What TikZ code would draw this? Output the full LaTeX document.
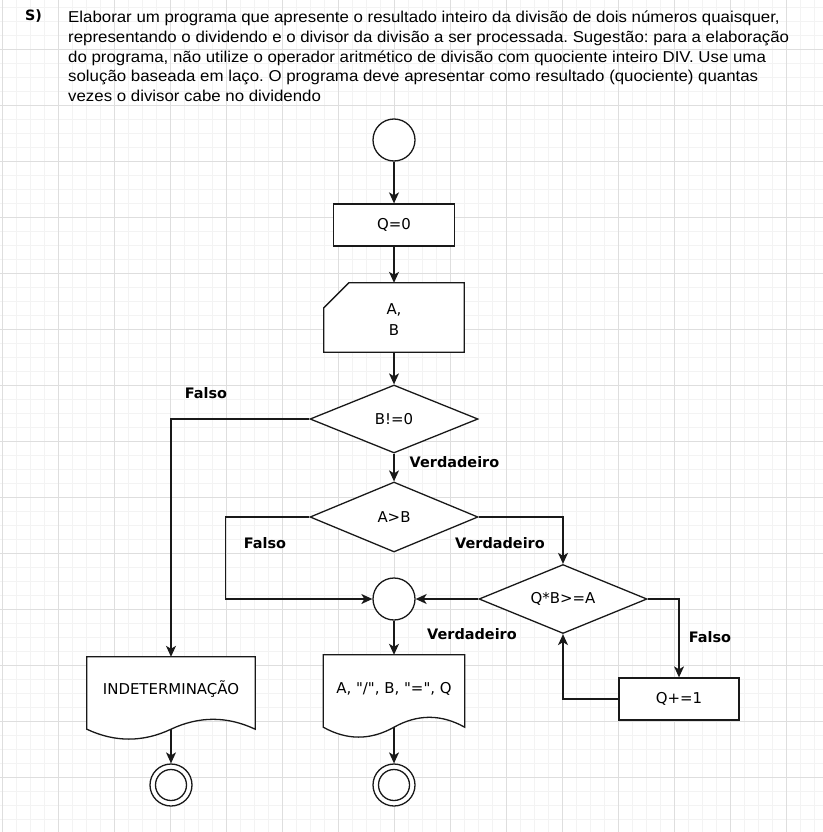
\documentclass[tikz,border=0pt]{standalone}
\usepackage{fontspec}
\setmainfont{Liberation Sans}
\newfontfamily\titlefont[FakeStretch=1.07]{Liberation Sans}
\newfontfamily\dvs{DejaVu Sans}
\usetikzlibrary{shapes.geometric,arrows.meta,calc}
\definecolor{gmaj}{RGB}{222,222,222}
\definecolor{gmin}{RGB}{243,243,243}
\definecolor{ink}{RGB}{25,25,25}
\pgfdeclarelayer{bg}
\pgfsetlayers{bg,main}
\frenchspacing
\newcommand\mydocwave[1]{%
  \draw[shapeline] (#1.north west) -- (#1.north east) -- (#1.south east)
    .. controls ($(#1.south east)!1/6!(#1.south west)+(0,-13.2)$) and ($(#1.south)!1/3!(#1.south east)+(0,-13.2)$) .. (#1.south)
    .. controls ($(#1.south)!1/3!(#1.south west)+(0,13.2)$) and ($(#1.south west)!1/6!(#1.south east)+(0,13.2)$) .. (#1.south west) -- cycle;}
\begin{document}
\begin{tikzpicture}[x=1bp,y=-1bp,
  nodefont/.style={font=\dvs\fontsize{15}{18}\selectfont},
  shapeline/.style={draw=ink, fill=white, line width=1.3bp},
  box/.style={rectangle, draw=ink, fill=white, line width=1.3bp, inner sep=0, nodefont},
  term/.style={circle, draw=ink, fill=white, line width=1.3bp, minimum size=42bp, inner sep=0},
  decision/.style={diamond, aspect=2.5, draw=ink, fill=white, line width=1.3bp, minimum width=168bp, minimum height=68bp, inner sep=0, nodefont},
  docbody/.style={rectangle, inner sep=0, minimum height=72bp},
  txt/.style={inner sep=0, nodefont},
  lbl/.style={inner sep=0, font=\dvs\bfseries\fontsize{14.5}{18}\selectfont},
  titletext/.style={inner sep=0, anchor=base west, font=\titlefont\fontsize{15.8}{19.7}\selectfont},
  arr/.style={draw=ink, line width=1.3bp, -{Stealth[length=11bp,width=10bp,inset=3bp]}}
]
\useasboundingbox (0,0) rectangle (823,832);
\begin{pgfonlayer}{bg}
  \fill[white] (0,0) rectangle (823,832);
  \foreach \i in {0,...,58} {
    \draw[gmin, line width=0.9bp] ({2.5+14*\i},0) -- ({2.5+14*\i},832);
    \draw[gmin, line width=0.9bp] (0,{7.5+14*\i}) -- (823,{7.5+14*\i});
  }
  \foreach \i in {0,...,14} {
    \draw[gmaj, line width=1bp] ({2.5+56*\i},0) -- ({2.5+56*\i},832);
  }
  \foreach \i in {0,...,13} {
    \draw[gmaj, line width=1bp] (0,{49.5+56*\i}) -- (823,{49.5+56*\i});
  }
\end{pgfonlayer}

% title
\node[inner sep=0, anchor=base west, font=\dvs\bfseries\fontsize{14.3}{18}\selectfont] (s) at (25,20.7) {S)};
\node[titletext] (t1) at (68,22.7) {Elaborar um programa que apresente o resultado inteiro da divisão de dois números quaisquer,};
\node[titletext] (t2) at (68,42.4) {representando o dividendo e o divisor da divisão a ser processada. Sugestão: para a elaboração};
\node[titletext] (t3) at (68,62.1) {do programa, não utilize o operador aritmético de divisão com quociente inteiro DIV. Use uma};
\node[titletext] (t4) at (68,81.8) {solução baseada em laço. O programa deve apresentar como resultado (quociente) quantas};
\node[titletext] (t5) at (68,101.5) {vezes o divisor cabe no dividendo};

% nodes
\node[term] (start) at (394,140) {};
\node[box, minimum width=121bp, minimum height=42bp] (q0) at (394,225) {Q=0};
\node[inner sep=0, minimum width=140bp, minimum height=69bp] (ab) at (394,317.5) {};
\node[txt, align=center, font=\dvs\fontsize{15}{21}\selectfont] (abt) at (394,319.5) {A,\\B};
\node[decision] (d1) at (394,419) {B!=0};
\node[decision, minimum height=70bp] (d2) at (394,517) {A>B};
\node[term] (conn) at (394,599) {};
\node[decision, minimum height=69bp] (d3) at (563,599) {Q*B>=A};
\node[box, minimum width=120bp, minimum height=42bp] (qp) at (679,699) {Q+=1};
\node[docbody, minimum width=168bp] (doc1) at (171,693) {};
\node[docbody, minimum width=141bp] (doc2) at (394,691) {};
\node[txt] (doc1t) at (171,689.5) {INDETERMINAÇÃO};
\node[txt] (doc2t) at (394,688.5) {A, "/", B, "=", Q};
\node[term] (end1) at (171,785) {};
\node[term] (end2) at (394,785) {};
\draw[ink, line width=1.3bp] (end1.center) circle[radius=15.5];
\draw[ink, line width=1.3bp] (end2.center) circle[radius=15.5];

\begin{pgfonlayer}{bg}
  \draw[shapeline] (ab.south west) -- ($(ab.north west)+(0,25)$) -- ($(ab.north west)+(25,0)$) -- (ab.north east) -- (ab.south east) -- cycle;
  \mydocwave{doc1}
  \mydocwave{doc2}
\end{pgfonlayer}

% labels
\node[lbl] (lf1) at (206,393) {Falso};
\node[lbl] (lv1) at (454.5,462.5) {Verdadeiro};
\node[lbl] (lf2) at (265,543) {Falso};
\node[lbl] (lv2) at (500,543) {Verdadeiro};
\node[lbl] (lv3) at (472,634) {Verdadeiro};
\node[lbl] (lf3) at (710,637) {Falso};

% connectors
\draw[arr] (start.south) -- (q0.north);
\draw[arr] (q0.south) -- (ab.north);
\draw[arr] (ab.south) -- (d1.north);
\draw[arr] (d1.south) -- (d2.north);
\draw[arr] (d1.west) -| (doc1.north);
\draw[arr] (d2.west) -- ++(-84,0) |- (conn.west);
\draw[arr] (d2.east) -| (d3.north);
\draw[arr] (d3.west) -- (conn.east);
\draw[arr] (d3.east) -| (qp.north);
\draw[arr] (qp.west) -| (d3.south);
\draw[arr] (conn.south) -- (doc2.north);
\draw[arr] (doc1.south) -- (end1.north);
\draw[arr] (doc2.south) -- (end2.north);
\end{tikzpicture}
\end{document}
